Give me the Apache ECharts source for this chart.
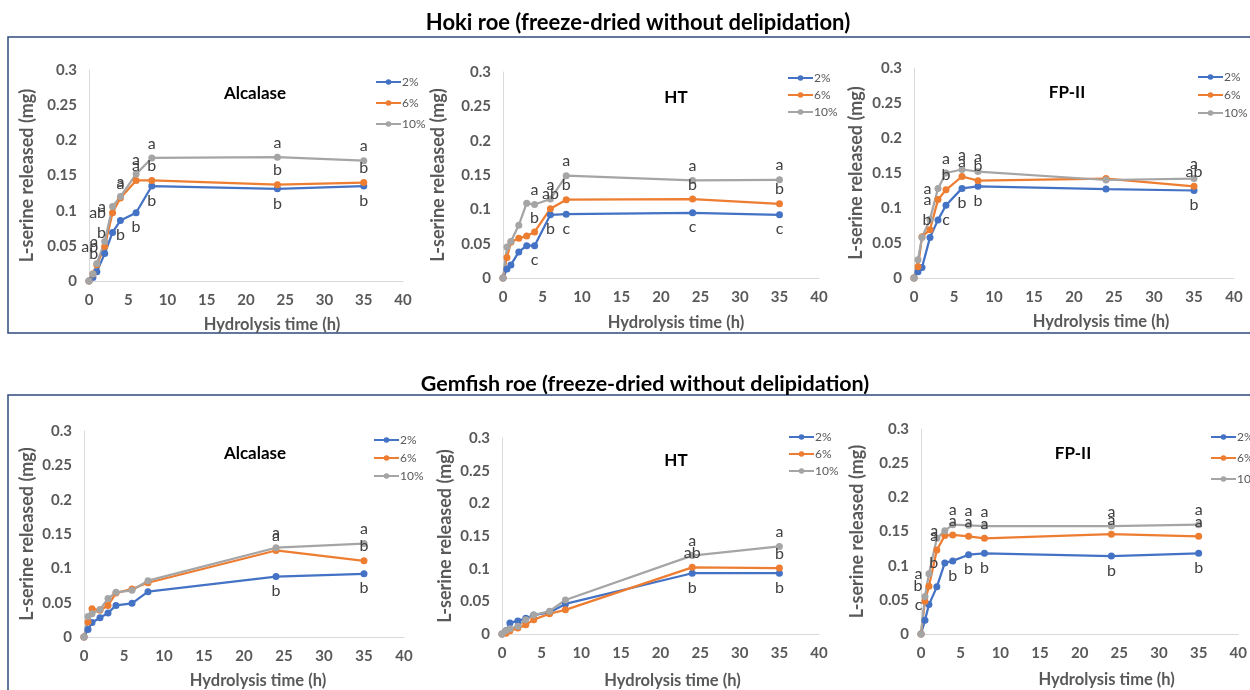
<!DOCTYPE html>
<html>
<head>
<meta charset="utf-8">
<script src="https://cdn.jsdelivr.net/npm/echarts@6/dist/echarts.min.js"></script>
<style>html,body{margin:0;padding:0;background:#fff;}#c{width:1250px;height:690px;}</style>
</head>
<body>
<div id="c"></div>
<script>
// ---- data ----
const hours = [0, 0.5, 1, 2, 3, 4, 6, 8, 24, 35];
const seriesNames = ['2%', '6%', '10%'];
const rowTitles = ['Hoki roe (freeze-dried without delipidation)', 'Gemfish roe (freeze-dried without delipidation)'];
const enzymeNames = ['Alcalase', 'HT', 'FP-II', 'Alcalase', 'HT', 'FP-II'];
const xTicks = [0, 5, 10, 15, 20, 25, 30, 35, 40];
const yTicks = [0, 0.05, 0.1, 0.15, 0.2, 0.25, 0.3];

const hokiAlcalase2  = [0, 0.005, 0.013, 0.039, 0.069, 0.086, 0.097, 0.135, 0.131, 0.135];
const hokiAlcalase6  = [0, 0.010, 0.023, 0.049, 0.097, 0.118, 0.143, 0.143, 0.137, 0.140];
const hokiAlcalase10 = [0, 0.010, 0.025, 0.056, 0.106, 0.120, 0.152, 0.175, 0.176, 0.171];
const hokiHT2  = [0, 0.013, 0.019, 0.038, 0.047, 0.047, 0.092, 0.093, 0.095, 0.092];
const hokiHT6  = [0, 0.030, 0.052, 0.058, 0.061, 0.067, 0.101, 0.114, 0.115, 0.108];
const hokiHT10 = [0, 0.045, 0.053, 0.077, 0.109, 0.107, 0.115, 0.149, 0.142, 0.143];
const hokiFP2  = [0, 0.009, 0.015, 0.058, 0.083, 0.104, 0.128, 0.131, 0.127, 0.125];
const hokiFP6  = [0, 0.016, 0.059, 0.069, 0.112, 0.126, 0.145, 0.139, 0.142, 0.131];
const hokiFP10 = [0, 0.026, 0.058, 0.084, 0.128, 0.150, 0.155, 0.152, 0.140, 0.142];
const gemAlcalase2  = [0, 0.011, 0.021, 0.028, 0.035, 0.046, 0.049, 0.066, 0.088, 0.092];
const gemAlcalase6  = [0, 0.022, 0.041, 0.039, 0.046, 0.064, 0.070, 0.079, 0.126, 0.111];
const gemAlcalase10 = [0, 0.030, 0.034, 0.040, 0.056, 0.065, 0.068, 0.082, 0.130, 0.136];
const gemHT2  = [0, 0.005, 0.017, 0.020, 0.024, 0.029, 0.033, 0.046, 0.093, 0.093];
const gemHT6  = [0, 0.001, 0.005, 0.009, 0.014, 0.022, 0.031, 0.037, 0.102, 0.101];
const gemHT10 = [0, 0.005, 0.008, 0.012, 0.022, 0.029, 0.035, 0.052, 0.120, 0.134];
const gemFP2  = [0, 0.020, 0.043, 0.069, 0.104, 0.107, 0.116, 0.118, 0.114, 0.118];
const gemFP6  = [0, 0.048, 0.070, 0.123, 0.144, 0.145, 0.143, 0.140, 0.146, 0.143];
const gemFP10 = [0, 0.055, 0.088, 0.140, 0.151, 0.160, 0.159, 0.158, 0.158, 0.160];

// significance letters (2%, 6%, 10%)
const hokiAlcalaseLetters2  = ['', '', '', 'b', 'b', 'b', 'b', 'b', 'b', 'b'];
const hokiAlcalaseLetters6  = ['', '', '', 'ab', 'ab', 'a', 'a', 'b', 'b', 'b'];
const hokiAlcalaseLetters10 = ['', '', '', 'a', 'a', 'a', 'a', 'a', 'a', 'a'];
const hokiHTLetters2  = ['', '', '', '', '', 'c', 'b', 'c', 'c', 'c'];
const hokiHTLetters6  = ['', '', '', '', '', 'b', 'ab', 'b', 'b', 'b'];
const hokiHTLetters10 = ['', '', '', '', '', 'a', 'a', 'a', 'a', 'a'];
const hokiFPLetters2  = ['', '', '', '', 'b', 'c', 'b', 'b', '', 'b'];
const hokiFPLetters6  = ['', '', '', '', 'a', 'b', 'a', 'b', '', 'ab'];
const hokiFPLetters10 = ['', '', '', '', 'a', 'a', 'a', 'a', '', 'a'];
const gemAlcalaseLetters2  = ['', '', '', '', '', '', '', '', 'b', 'b'];
const gemAlcalaseLetters6  = ['', '', '', '', '', '', '', '', 'a', 'b'];
const gemAlcalaseLetters10 = ['', '', '', '', '', '', '', '', 'a', 'a'];
const gemHTLetters2  = ['', '', '', '', '', '', '', '', 'b', 'b'];
const gemHTLetters6  = ['', '', '', '', '', '', '', '', 'ab', 'b'];
const gemHTLetters10 = ['', '', '', '', '', '', '', '', 'a', 'a'];
const gemFPLetters2  = ['', '', 'c', '', 'b', 'b', 'b', 'b', 'b', 'b'];
const gemFPLetters6  = ['', '', 'b', '', 'a', 'a', 'a', 'a', 'a', 'a'];
const gemFPLetters10 = ['', '', 'a', '', 'a', 'a', 'a', 'a', 'a', 'a'];

const panelValues = [
  [hokiAlcalase2, hokiAlcalase6, hokiAlcalase10],
  [hokiHT2, hokiHT6, hokiHT10],
  [hokiFP2, hokiFP6, hokiFP10],
  [gemAlcalase2, gemAlcalase6, gemAlcalase10],
  [gemHT2, gemHT6, gemHT10],
  [gemFP2, gemFP6, gemFP10]
];
const panelLetters = [
  [hokiAlcalaseLetters2, hokiAlcalaseLetters6, hokiAlcalaseLetters10],
  [hokiHTLetters2, hokiHTLetters6, hokiHTLetters10],
  [hokiFPLetters2, hokiFPLetters6, hokiFPLetters10],
  [gemAlcalaseLetters2, gemAlcalaseLetters6, gemAlcalaseLetters10],
  [gemHTLetters2, gemHTLetters6, gemHTLetters10],
  [gemFPLetters2, gemFPLetters6, gemFPLetters10]
];

// ---- layout ----
const layout = [
  {grid:{left:89, top:70, width:314, height:211}, xShift:26, xGap:35, yGap:53, title:[250,80], legend:[370,71,9]},
  {grid:{left:503, top:72, width:316, height:206}, xShift:15, xGap:36, yGap:56, title:[671,84], legend:[782,67,5]},
  {grid:{left:914, top:68, width:320, height:210}, xShift:27, xGap:35, yGap:49, title:[1062,79], legend:[1192,66,6]},
  {grid:{left:84, top:431, width:320, height:208}, xShift:14, xGap:35, yGap:48, title:[250,440], legend:[368,429,6]},
  {grid:{left:502, top:438, width:317, height:197}, xShift:12, xGap:38, yGap:48, title:[671,447], legend:[783,426,5]},
  {grid:{left:921, top:429, width:318, height:205}, xShift:27, xGap:37, yGap:55, title:[1068,440], legend:[1205,426,9]}
];
const colors = ['#4472C4', '#ED7D31', '#A5A5A5'];
const defaultPos = ['bottom', 'top', 'top'];
const font = 'Lato, "Open Sans", sans-serif';

const option = {
  animation: false,
  backgroundColor: '#fff',
  textStyle: {fontFamily: font},
  graphic: [
    {type:'rect', shape:{x:8, y:37, width:1260, height:296}, style:{fill:'none', stroke:'#2F4B7C', lineWidth:1.5}},
    {type:'rect', shape:{x:8, y:395, width:1260, height:320}, style:{fill:'none', stroke:'#2F4B7C', lineWidth:1.5}}
  ],
  title: [
    {text: rowTitles[0], left: 633, top: 7, textAlign:'center', textStyle:{fontSize:22, fontWeight:'bold', color:'#000', fontFamily:font}},
    {text: rowTitles[1], left: 640, top: 368, textAlign:'center', textStyle:{fontSize:21.5, fontWeight:'bold', color:'#000', fontFamily:font}}
  ].concat(layout.map((l, i) => ({
    text: enzymeNames[i], left: l.title[0], top: l.title[1], textAlign:'center',
    textStyle:{fontSize:17, fontWeight:'bold', color:'#000', fontFamily:font}
  }))),
  grid: layout.map(l => Object.assign({containLabel:false}, l.grid)),
  xAxis: layout.map((l, i) => ({
    type:'value', gridIndex:i, min:xTicks[0], max:xTicks[xTicks.length-1], interval:xTicks[1]-xTicks[0],
    axisLine:{show:true, onZero:false, lineStyle:{color:'#D9D9D9', width:1}},
    axisTick:{show:false}, splitLine:{show:false},
    axisLabel:{color:'#595959', fontSize:15, fontWeight:'bold', margin:12, fontFamily:font},
    name:'Hydrolysis time (h)', nameLocation:'middle', nameGap:l.xGap,
    nameTextStyle:{color:'#595959', fontSize:16.5, fontWeight:'bold', fontFamily:font, padding:[0,0,0,2*l.xShift]}
  })),
  yAxis: layout.map((l, i) => ({
    type:'value', gridIndex:i, min:yTicks[0], max:yTicks[yTicks.length-1], interval:yTicks[1]-yTicks[0],
    axisLine:{show:true, lineStyle:{color:'#D9D9D9', width:1}},
    axisTick:{show:false}, splitLine:{show:false},
    axisLabel:{color:'#595959', fontSize:15, fontWeight:'bold', margin:12, fontFamily:font},
    name:'L-serine released (mg)', nameLocation:'middle', nameGap:l.yGap,
    nameTextStyle:{color:'#595959', fontSize:18, fontWeight:'bold', fontFamily:font}
  })),
  legend: layout.map(l => ({
    data: seriesNames, orient:'vertical', left:l.legend[0], top:l.legend[1], itemGap:l.legend[2],
    itemWidth:25, itemHeight:7, selectedMode:false,
    textStyle:{color:'#595959', fontSize:12, fontFamily:font, padding:[0,0,0,-4]}
  })),
  series: []
};

panelValues.forEach((vals, p) => {
  vals.forEach((arr, s) => {
    const letters = panelLetters[p][s];
    option.series.push({
      type:'line', name:seriesNames[s], xAxisIndex:p, yAxisIndex:p,
      symbol:'circle', symbolSize:7, showSymbol:true,
      color: colors[s],
      lineStyle:{width:2.25, color:colors[s]},
      itemStyle:{color:colors[s]},
      labelLayout:{moveOverlap:'shiftY'},
      data: hours.map((h, k) => ({
        value:[h, arr[k]],
        label:{
          show: letters[k] !== '', formatter: letters[k],
          position: h <= 3 ? 'left' : defaultPos[s], distance: 3,
          color:'#404040', fontSize:16, fontFamily:font
        }
      }))
    });
  });
});

const chart = echarts.init(document.getElementById('c'), null, {renderer:'canvas'});
chart.setOption(option);
</script>
</body>
</html>
